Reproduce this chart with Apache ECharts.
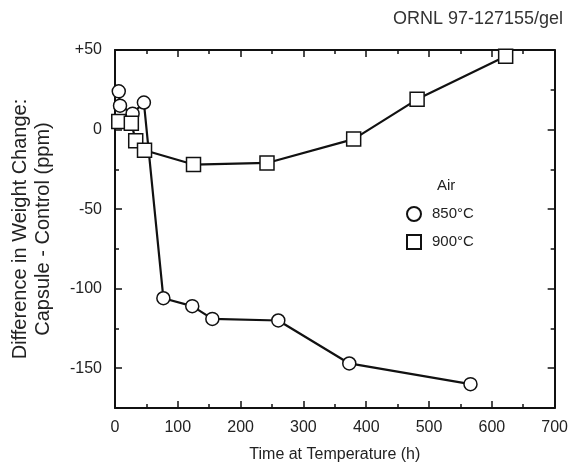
<!DOCTYPE html>
<html>
<head>
<meta charset="utf-8">
<script src="https://cdn.jsdelivr.net/npm/echarts@6/dist/echarts.min.js"></script>
<style>
html,body{margin:0;padding:0;background:#fff;}
#chart{width:571px;height:468px;}
</style>
</head>
<body>
<div id="chart"></div>
<script>
// Data
var hours850 = [6, 8, 28, 46, 77, 123, 155, 260, 373, 566];
var diff850  = [24, 15, 10, 17, -106, -111, -119, -120, -147, -160];
var hours900 = [6, 26, 33, 47, 125, 242, 380, 481, 622];
var diff900  = [5, 4, -7, -13, -22, -21, -6, 19, 46];
var xTicks = [0, 100, 200, 300, 400, 500, 600, 700];
var yTicks = [-150, -100, -50, 0, 50];
var seriesNames = ['850\u00B0C', '900\u00B0C'];

function pairs(xs, ys) { return xs.map(function (x, i) { return [x, ys[i]]; }); }

var font = 'Liberation Sans, Arial, Helvetica, sans-serif';
var axisLine = { show: true, onZero: false, lineStyle: { color: '#111', width: 2 } };
var noLine = { show: false, onZero: false };

var chart = echarts.init(document.getElementById('chart'), null, { renderer: 'canvas' });
chart.setOption({
  backgroundColor: '#fff',
  animation: false,
  title: [
    { text: 'ORNL 97-127155/gel', right: 3, top: 5,
      textStyle: { fontFamily: font, fontSize: 18, fontWeight: 'normal', color: '#333' } },
    { text: 'Air', left: 432, top: 173,
      textStyle: { fontFamily: font, fontSize: 15, fontWeight: 'normal', color: '#222' } }
  ],
  legend: {
    orient: 'vertical', left: 401, top: 201, itemGap: 12,
    itemWidth: 14, itemHeight: 14,
    textStyle: { fontFamily: font, fontSize: 15, color: '#222', padding: [0, 0, 0, 6] },
    data: [{ name: seriesNames[0], icon: 'circle' }, { name: seriesNames[1], icon: 'rect' }]
  },
  grid: { left: 115, right: 13, top: 50, bottom: 59 },
  xAxis: [
    { type: 'value', position: 'bottom', min: 0, max: 700, interval: 100,
      axisLine: axisLine,
      axisTick: { inside: true, length: 7, lineStyle: { color: '#111', width: 1.5 } },
      minorTick: { show: true, splitNumber: 2, length: 4, lineStyle: { color: '#111', width: 1.5 } },
      axisLabel: { fontFamily: font, fontSize: 16, color: '#222', margin: 12,
        customValues: xTicks },
      splitLine: { show: false },
      name: 'Time at Temperature (h)', nameLocation: 'middle', nameGap: 39,
      nameTextStyle: { fontFamily: font, fontSize: 16, color: '#222' } },
    { type: 'value', position: 'top', min: 0, max: 700, interval: 100,
      axisLine: axisLine,
      axisTick: { inside: true, length: 7, lineStyle: { color: '#111', width: 1.5 } },
      minorTick: { show: true, splitNumber: 2, length: 4, lineStyle: { color: '#111', width: 1.5 } },
      axisLabel: { show: false }, splitLine: { show: false } }
  ],
  yAxis: [
    { type: 'value', position: 'left', min: -175, max: 50,
      axisLine: axisLine,
      axisTick: { inside: true, length: 7, customValues: yTicks, lineStyle: { color: '#111', width: 1.5 } },
      axisLabel: { fontFamily: font, fontSize: 16, color: '#222', margin: 13, customValues: yTicks,
        formatter: function (v) { return v > 0 ? '+' + v : String(v); } },
      splitLine: { show: false },
      name: 'Difference in Weight Change:\nCapsule - Control (ppm)',
      nameLocation: 'middle', nameGap: 60, nameRotate: 90,
      nameTextStyle: { fontFamily: font, fontSize: 20, color: '#222', lineHeight: 23 } },
    { type: 'value', position: 'left', min: -175, max: 50, interval: 25,
      axisLine: noLine,
      axisTick: { inside: true, length: 4, lineStyle: { color: '#111', width: 1.5 } },
      axisLabel: { show: false }, splitLine: { show: false } },
    { type: 'value', position: 'right', min: -175, max: 50,
      axisLine: axisLine,
      axisTick: { inside: true, length: 7, customValues: yTicks, lineStyle: { color: '#111', width: 1.5 } },
      axisLabel: { show: false }, splitLine: { show: false } },
    { type: 'value', position: 'right', min: -175, max: 50, interval: 25,
      axisLine: noLine,
      axisTick: { inside: true, length: 4, lineStyle: { color: '#111', width: 1.5 } },
      axisLabel: { show: false }, splitLine: { show: false } }
  ],
  series: [
    { name: seriesNames[0], type: 'line', xAxisIndex: 0, yAxisIndex: 0,
      data: pairs(hours850, diff850),
      symbol: 'circle', symbolSize: 13,
      lineStyle: { color: '#111', width: 2.2 },
      itemStyle: { color: '#fff', borderColor: '#111', borderWidth: 1.5 } },
    { name: seriesNames[1], type: 'line', xAxisIndex: 0, yAxisIndex: 0,
      data: pairs(hours900, diff900),
      symbol: 'rect', symbolSize: 14,
      lineStyle: { color: '#111', width: 2.2 },
      itemStyle: { color: '#fff', borderColor: '#111', borderWidth: 1.5 } }
  ]
});
</script>
</body>
</html>
